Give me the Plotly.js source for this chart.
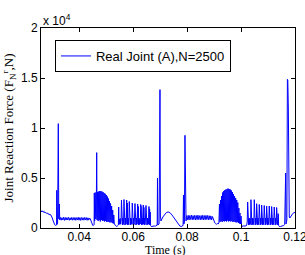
<!DOCTYPE html>
<html><head><meta charset="utf-8">
<script src="https://cdn.plot.ly/plotly-3.0.1.min.js"></script>
<style>html,body{margin:0;padding:0;background:#fff}#c{width:305px;height:255px}</style>
</head><body><div id="c"></div>
<script>
// ---- data (time in s, force in N) ----
const startT = [0.0258,0.0261,0.0264,0.0267,0.0270,0.0273,0.0276,0.0279,0.0282,0.0285,0.0288,0.0291,0.0294,0.0297,0.0300,0.0302,0.0304,0.0306,0.0309,0.0312,0.0315,0.03160,0.03165,0.03170,0.03195,0.03222,0.03240,0.03259,0.03275];
const startF = [1750,1600,1720,1580,1650,1500,1560,1450,1500,1380,1420,1300,1330,1200,1000,800,600,450,320,260,300,320,3770,350,500,10440,900,2400,800];

const flat1T = [0.0330,0.0333,0.0336,0.0339,0.0342,0.0345,0.0348,0.0351,0.0354,0.0357,0.0360,0.0363,0.0366,0.0369,0.0372,0.0375,0.0378,0.0381,0.0384,0.0387,0.0390,0.0393,0.0396,0.0399,0.0402,0.0405,0.0408,0.0411,0.0414,0.0417,0.0420,0.0423,0.0426,0.0429,0.0432,0.0435,0.0438,0.0441,0.0444,0.0447,0.0450,0.0453,0.0455];
const flat1F = [1060,780,1030,800,1080,760,1050,790,1040,810,1070,770,1020,800,1060,780,1040,790,1050,770,1030,800,1070,780,1040,760,1050,790,1030,780,1060,800,1040,770,1020,790,1000,900,600,380,260,280,350];

const burst1T = [0.04557,0.04570,0.04590,0.04610,0.04630,0.04646,0.04660,0.04680,0.04700,0.04720,0.04740,0.04760,0.04780,0.04800,0.04820,0.04840,0.04860,0.04880,0.04900,0.04920,0.04940,0.04960,0.04980,0.05000,0.05020,0.05040,0.05060,0.05080,0.05100,0.05120,0.05140,0.05160,0.05180,0.05200,0.05220,0.05240,0.05260,0.05280,0.05300,0.05320,0.05350,0.05380,0.05410,0.05440];
const burst1F = [3500,700,3550,900,1200,7540,800,3600,700,3650,800,3700,650,3680,800,3650,700,3600,750,3500,650,3420,700,3300,600,3150,650,2950,600,2700,550,2450,600,2200,500,1800,450,1300,400,300,200,150,200,250];

const teeth1T = [0.05450,0.05462,0.05474,0.05490,0.05505,0.05520,0.05535,0.05550,0.05565,0.05577,0.05589,0.05601,0.05615,0.05630,0.05645,0.05658,0.05670,0.05682,0.05694,0.05710,0.05725,0.05740,0.05758,0.05770,0.05782,0.05794,0.05810,0.05825,0.05840,0.05855,0.05867,0.05879,0.05891,0.05905,0.05920,0.05935,0.05950,0.05966,0.05978,0.05990,0.06002,0.06016,0.06031,0.06046,0.06066,0.06078,0.06090,0.06102,0.06116,0.06131,0.06146,0.06166,0.06178,0.06190,0.06202,0.06216,0.06231,0.06246,0.06262,0.06278,0.06290,0.06302,0.06314,0.06328,0.06343,0.06358,0.06374,0.06386,0.06398,0.06410,0.06424,0.06439,0.06454,0.06474,0.06486,0.06498,0.06510,0.06524,0.06539,0.06554,0.06570,0.06585,0.06597,0.06609,0.06620,0.06630,0.06645,0.06670,0.06700,0.06740,0.06780,0.06820,0.06860,0.06890];
const teeth1F = [300,2100,400,900,350,950,400,800,2800,400,2550,300,1000,350,900,2850,400,2600,300,1000,350,950,2800,400,2500,300,1000,350,900,2650,400,2400,300,1000,350,950,400,2500,400,2250,300,1000,350,900,2450,400,2200,300,1000,350,950,2400,400,2150,300,1000,350,900,400,2350,400,2100,300,1000,350,900,2300,400,2050,300,1000,350,900,2250,400,2000,300,1000,350,900,400,2150,350,1900,300,1600,250,150,180,150,200,180,250,300];

const humpT = [0.06901,0.06915,0.06960,0.06993,0.07010,0.07030,0.07100,0.07170,0.07230,0.07300,0.07370,0.07440,0.07500,0.07560,0.07620,0.07680,0.07730,0.07780,0.07820,0.07850,0.07865,0.07880,0.07900,0.07920,0.07940,0.07960];
const humpF = [5000,300,400,13840,1200,700,1100,1400,1550,1600,1520,1300,1050,800,550,350,200,150,180,250,3300,400,600,9270,1200,700];

const flat2T = [0.0798,0.0801,0.0804,0.0807,0.0810,0.0813,0.0816,0.0819,0.0822,0.0825,0.0828,0.0831,0.0834,0.0837,0.0840,0.0843,0.0846,0.0849,0.0852,0.0855,0.0858,0.0861,0.0864,0.0867,0.0870,0.0873,0.0876,0.0879,0.0882,0.0885,0.0888,0.0891,0.0894,0.0897,0.0900,0.0903,0.0906,0.0909,0.0912,0.0915,0.0918];
const flat2F = [1230,830,1270,800,1250,850,1290,820,1240,840,1260,810,1250,830,1280,850,1230,820,1250,840,1270,810,1240,830,1260,850,1250,820,1230,840,1210,810,1150,900,650,500,420,380,450,400,500];

const burst2T = [0.09200,0.09220,0.09240,0.09260,0.09280,0.09300,0.09320,0.09340,0.09360,0.09380,0.09400,0.09420,0.09440,0.09460,0.09480,0.09500,0.09520,0.09540,0.09560,0.09580,0.09600,0.09620,0.09640,0.09660,0.09680,0.09700,0.09720,0.09740,0.09760,0.09780,0.09800,0.09820,0.09840,0.09860,0.09880,0.09900,0.09920,0.09940,0.09960,0.09980,0.10000,0.10020,0.10050,0.10080,0.10110,0.10140,0.10180,0.10210,0.10230];
const burst2F = [2400,600,2800,700,3200,600,3550,700,3700,650,3800,700,3850,650,3900,750,3950,650,3900,700,3850,650,3750,700,3600,600,3400,650,3200,600,3000,550,2800,600,2550,500,2000,450,1500,400,1200,300,150,200,200,250,200,300,600];

const teeth2T = [0.10246,0.10258,0.10270,0.10282,0.10296,0.10311,0.10326,0.10341,0.10356,0.10368,0.10380,0.10392,0.10404,0.10418,0.10433,0.10448,0.10463,0.10478,0.10491,0.10503,0.10515,0.10527,0.10541,0.10556,0.10568,0.10580,0.10592,0.10604,0.10616,0.10630,0.10645,0.10660,0.10676,0.10688,0.10700,0.10712,0.10726,0.10741,0.10753,0.10765,0.10777,0.10789,0.10801,0.10815,0.10830,0.10845,0.10861,0.10873,0.10885,0.10897,0.10911,0.10926,0.10938,0.10950,0.10962,0.10974,0.10986,0.11000,0.11015,0.11030,0.11047,0.11059,0.11071,0.11083,0.11097,0.11112,0.11124,0.11136,0.11148,0.11160,0.11172,0.11186,0.11201,0.11216,0.11232,0.11244,0.11256,0.11268,0.11282,0.11297,0.11309,0.11321,0.11333,0.11345,0.11357,0.11369,0.11381,0.11395,0.11420,0.11460,0.11500,0.11540,0.11580,0.11620];
const teeth2F = [2600,400,2350,300,1000,350,950,350,700,2830,400,2550,300,1000,350,950,350,700,2830,400,2500,300,1000,350,600,2430,400,2200,300,1000,350,700,2350,400,2100,300,1000,350,600,2300,400,2050,300,1000,350,700,2250,400,2000,300,1000,350,600,2200,400,1950,300,1000,350,700,2200,400,1950,300,1000,350,600,2150,400,1900,300,1000,350,700,2100,400,1850,300,1000,350,600,2050,400,1800,300,600,1430,250,150,150,180,150,250,350];

const endT = [0.11655,0.11668,0.11700,0.11720,0.11735,0.11755,0.11770,0.11790,0.11810,0.11840,0.11880,0.11920,0.11960,0.12000];
const endF = [5500,400,800,14870,14800,12000,2000,1100,1000,1150,1350,1450,1520,1560];

const seriesName = 'Real Joint (A),N=2500';
const xTickVals = [0.04,0.06,0.08,0.10,0.12];
const xTickText = ['0.04','0.06','0.08','0.1','0.12'];
const yTickVals = [0,5000,10000,15000,20000];
const yTickText = ['0','0.5','1','1.5','2'];

const timeS = [].concat(startT,flat1T,burst1T,teeth1T,humpT,flat2T,burst2T,teeth2T,endT);
const forceN = [].concat(startF,flat1F,burst1F,teeth1F,humpF,flat2F,burst2F,teeth2F,endF);

const trace = {x: timeS, y: forceN, type: 'scatter', mode: 'lines', name: seriesName,
  line: {color: '#0000ff', width: 1}, showlegend: true};

const axisCommon = {showline: true, linecolor: '#000', linewidth: 1, mirror: 'allticks',
  ticks: 'inside', ticklen: 4, tickcolor: '#000', showgrid: false, zeroline: false,
  automargin: false, ticklabeloverflow: 'allow',
  tickfont: {family: 'Liberation Sans, Arial', size: 12, color: '#000'}};

const layout = {
  width: 305, height: 255,
  margin: {l: 41, r: 10, t: 28, b: 27},
  paper_bgcolor: '#fff', plot_bgcolor: '#fff',
  showlegend: true,
  legend: {x: 0.055, y: 0.94, xanchor: 'left', yanchor: 'top', bgcolor: '#fff', itemwidth: 30,
    bordercolor: '#000', borderwidth: 1, font: {family: 'Liberation Sans, Arial', size: 13, color: '#000'}},
  xaxis: Object.assign({}, axisCommon, {range: [0.0258, 0.12002], tickvals: xTickVals, ticktext: xTickText,
    ticklabelstandoff: -2}),
  yaxis: Object.assign({}, axisCommon, {range: [0, 20000], tickvals: yTickVals, ticktext: yTickText,
    title: {text: 'Joint Reaction Force (F<sub>N</sub><sup>r</sup>,N)', font: {family: 'Liberation Serif, Times New Roman', size: 13, color: '#000'}}}),
  annotations: [
    {xref: 'paper', yref: 'paper', x: 0.0, y: 1.04, xanchor: 'left', yanchor: 'middle',
     text: 'x 10<sup>4</sup>', showarrow: false, font: {family: 'Liberation Sans, Arial', size: 12, color: '#000'}},
    {xref: 'paper', yref: 'paper', x: 0.49, y: -0.11, xanchor: 'center', yanchor: 'middle',
     text: 'Time (s)', showarrow: false, font: {family: 'Liberation Serif, Times New Roman', size: 12, color: '#000'}}
  ]
};

Plotly.newPlot('c', [trace], layout, {displayModeBar: false, staticPlot: true});
</script></body></html>
